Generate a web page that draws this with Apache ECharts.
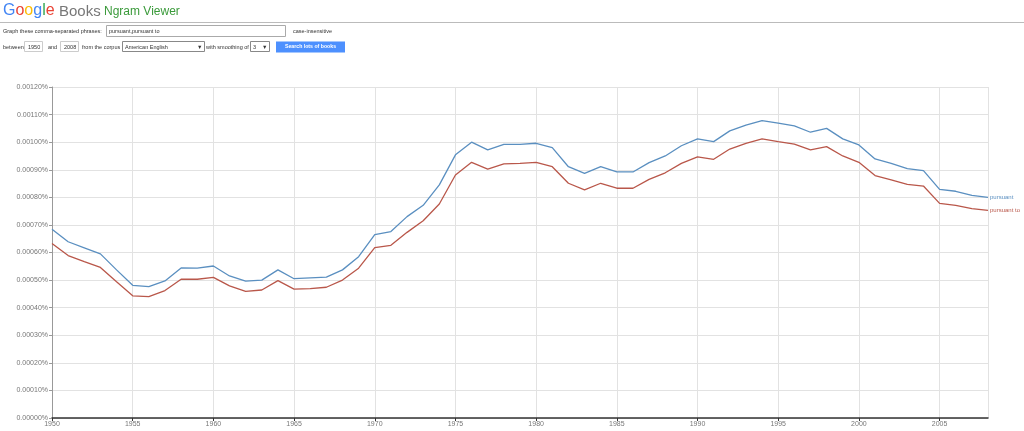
<!DOCTYPE html>
<html>
<head>
<meta charset="utf-8">
<script src="https://cdn.jsdelivr.net/npm/echarts@6/dist/echarts.min.js"></script>
<style>
html,body{margin:0;padding:0;background:#fff;}
#chart{width:1024px;height:431px;}
</style>
</head>
<body>
<div id="chart"></div>
<script>
var years = [];
for (var y = 1950; y <= 2008; y++) years.push(y);

var seriesNames = ['pursuant', 'pursuant to'];

// values in percent
var pursuant = [
  0.000684, 0.000639, 0.000617, 0.000595, 0.000537, 0.000481, 0.000476, 0.000497, 0.000544, 0.000543,
  0.000551, 0.000515, 0.000496, 0.000500, 0.000537, 0.000505, 0.000508, 0.000511, 0.000537, 0.000585,
  0.000665, 0.000676, 0.000730, 0.000771, 0.000845, 0.000954, 0.001000, 0.000972, 0.000992, 0.000992,
  0.000996, 0.000980, 0.000911, 0.000887, 0.000911, 0.000892, 0.000892, 0.000926, 0.000950, 0.000987,
  0.001012, 0.001002, 0.001041, 0.001062, 0.001078, 0.001069, 0.001059, 0.001036, 0.001050, 0.001012,
  0.000990, 0.000939, 0.000923, 0.000904, 0.000897, 0.000829, 0.000822, 0.000807, 0.000800
];
var pursuantTo = [
  0.000633, 0.000589, 0.000567, 0.000546, 0.000494, 0.000443, 0.000440, 0.000462, 0.000503, 0.000503,
  0.000510, 0.000479, 0.000459, 0.000464, 0.000498, 0.000467, 0.000469, 0.000474, 0.000500, 0.000543,
  0.000618, 0.000626, 0.000673, 0.000715, 0.000776, 0.000881, 0.000927, 0.000902, 0.000921, 0.000923,
  0.000927, 0.000911, 0.000851, 0.000827, 0.000851, 0.000833, 0.000833, 0.000865, 0.000889, 0.000923,
  0.000947, 0.000938, 0.000975, 0.000996, 0.001012, 0.001002, 0.000993, 0.000972, 0.000984, 0.000950,
  0.000927, 0.000879, 0.000863, 0.000847, 0.000841, 0.000778, 0.000771, 0.000759, 0.000753
];

var xTicks = [1950, 1955, 1960, 1965, 1970, 1975, 1980, 1985, 1990, 1995, 2000, 2005];

function pairs(vals) {
  return years.map(function (yr, i) { return [yr, vals[i]]; });
}

var chart = echarts.init(document.getElementById('chart'), null, {renderer: 'canvas'});
var F = 'Arial, "Liberation Sans", sans-serif';
var small = {fontSize: 5.5, fontFamily: F, fill: '#333'};

function txt(x, y, s, extra) {
  var st = Object.assign({}, small, {text: s}, extra || {});
  return {type: 'text', left: x, top: y, style: st, silent: true};
}
function box(x, y, w, h, stroke, fill) {
  return {type: 'rect', shape: {x: x, y: y, width: w, height: h},
    style: {fill: fill || '#fff', stroke: stroke || '#aaa', lineWidth: 1}, silent: true};
}

var gLetters = [['G', '#4285f4'], ['o', '#ea4335'], ['o', '#fbbc05'], ['g', '#4285f4'], ['l', '#34a853'], ['e', '#ea4335']];
var gRich = {};
gLetters.forEach(function (l, i) { gRich['c' + i] = {fill: l[1], fontSize: 16, fontFamily: F}; });
var gText = gLetters.map(function (l, i) { return '{c' + i + '|' + l[0] + '}'; }).join('');

var graphics = [
  {type: 'text', left: 3, top: 3, style: {text: gText, rich: gRich, fontSize: 16, fontFamily: F}, silent: true},
  txt(59, 4, 'Books', {fontSize: 15, fill: '#777'}),
  txt(104, 6, 'Ngram Viewer', {fontSize: 12, fill: '#3a9a3a'}),
  {type: 'line', shape: {x1: 0, y1: 22.5, x2: 1024, y2: 22.5}, style: {stroke: '#bbb', lineWidth: 1}, silent: true},
  txt(3, 28.5, 'Graph these comma-separated phrases:'),
  box(106.5, 25.5, 179, 11, '#aaa'),
  txt(109, 28.5, 'pursuant,pursuant to'),
  txt(293, 28.5, 'case-insensitive'),
  txt(3, 44.5, 'between'),
  box(24.5, 41.5, 18, 10, '#ccc'),
  txt(28, 44.5, '1950'),
  txt(48, 44.5, 'and'),
  box(60.5, 41.5, 18, 10, '#ccc'),
  txt(64, 44.5, '2008'),
  txt(82, 44.5, 'from the corpus'),
  box(122.5, 41.5, 82, 10, '#888'),
  txt(125, 44.5, 'American English'),
  txt(197, 44.5, '\u25BC'),
  txt(206, 44.5, 'with smoothing of'),
  box(250.5, 41.5, 19, 10, '#888'),
  txt(253, 44.5, '3'),
  txt(262, 44.5, '\u25BC'),
  {type: 'rect', shape: {x: 276, y: 41.5, width: 69, height: 11}, style: {fill: '#4d90fe'}, silent: true},
  txt(285, 44.5, 'Search lots of books', {fill: '#fff', fontWeight: 'bold', fontSize: 5.2})
];

var option = {
  animation: false,
  backgroundColor: '#fff',
  grid: {left: 52, right: 36, top: 87, bottom: 13, containLabel: false},
  xAxis: {
    type: 'value', min: 1950, max: 2008, interval: 5,
    axisLine: {show: true, onZero: false, lineStyle: {color: '#333', width: 1.5}},
    axisTick: {show: true, length: 3, lineStyle: {color: '#333'}},
    axisLabel: {fontSize: 7, color: '#777', fontFamily: F, margin: 3,
      showMaxLabel: false,
      formatter: function (v) { return xTicks.indexOf(v) >= 0 ? String(v) : ''; }},
    splitLine: {show: true, lineStyle: {color: '#e2e2e2', width: 1}}
  },
  yAxis: {
    type: 'value', min: 0, max: 0.0012, interval: 0.0001,
    axisLine: {show: true, lineStyle: {color: '#999', width: 1}},
    axisTick: {show: true, length: 3, lineStyle: {color: '#999'}},
    axisLabel: {fontSize: 7, color: '#777', fontFamily: F, margin: 4,
      formatter: function (v) { return v.toFixed(5) + '%'; }},
    splitLine: {show: true, lineStyle: {color: '#e2e2e2', width: 1}}
  },
  series: [
    {name: seriesNames[0], type: 'line', data: pairs(pursuant), symbol: 'none', smooth: false,
      lineStyle: {color: '#5a8fc0', width: 1.3}, itemStyle: {color: '#5a8fc0'},
      endLabel: {show: true, formatter: '{a}', fontSize: 6, color: '#5a8fc0', fontFamily: F, distance: 2}},
    {name: seriesNames[1], type: 'line', data: pairs(pursuantTo), symbol: 'none', smooth: false,
      lineStyle: {color: '#b9574a', width: 1.3}, itemStyle: {color: '#b9574a'},
      endLabel: {show: true, formatter: '{a}', fontSize: 6, color: '#b9574a', fontFamily: F, distance: 2}}
  ],
  graphic: graphics
};
chart.setOption(option);
</script>
</body>
</html>
